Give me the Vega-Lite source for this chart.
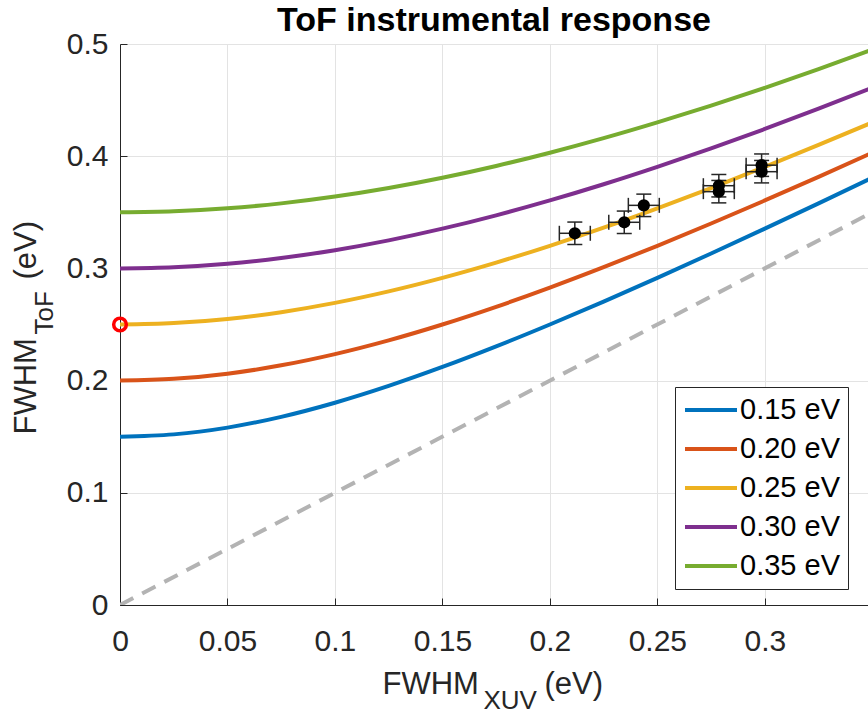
{
  "$schema": "https://vega.github.io/schema/vega-lite/v6.json",
  "width": 748,
  "height": 561,
  "autosize": {"type": "none"},
  "padding": {"left": 120, "top": 44, "right": 0, "bottom": 109},
  "background": "#ffffff",
  "title": {
    "text": "ToF instrumental response",
    "font": "Liberation Sans",
    "fontSize": 34,
    "fontWeight": "bold",
    "color": "#000000",
    "anchor": "middle",
    "baseline": "alphabetic",
    "offset": -36
  },
  "config": {
    "view": {"stroke": null},
    "axis": {
      "labelFont": "Liberation Sans",
      "titleFont": "Liberation Sans",
      "labelColor": "#262626",
      "titleColor": "#262626",
      "titleFontWeight": "normal",
      "domainColor": "#262626",
      "tickColor": "#262626",
      "gridColor": "#e3e3e3",
      "labelFontSize": 30,
      "titleFontSize": 31,
      "titleAlign": "left",
      "titleBaseline": "alphabetic",
      "labelFlush": false,
      "labelOverlap": false
    }
  },
  "datasets": {
    "diag": [
      {"fwhm_xuv": 0, "fwhm_tof": 0},
      {"fwhm_xuv": 0.35, "fwhm_tof": 0.35}
    ],
    "curves": [
      {"inst": "0.15 eV", "fwhm_xuv": 0, "fwhm_tof": 0.15},
      {"inst": "0.15 eV", "fwhm_xuv": 0.025, "fwhm_tof": 0.15207},
      {"inst": "0.15 eV", "fwhm_xuv": 0.05, "fwhm_tof": 0.15811},
      {"inst": "0.15 eV", "fwhm_xuv": 0.075, "fwhm_tof": 0.16771},
      {"inst": "0.15 eV", "fwhm_xuv": 0.1, "fwhm_tof": 0.18028},
      {"inst": "0.15 eV", "fwhm_xuv": 0.125, "fwhm_tof": 0.19526},
      {"inst": "0.15 eV", "fwhm_xuv": 0.15, "fwhm_tof": 0.21213},
      {"inst": "0.15 eV", "fwhm_xuv": 0.175, "fwhm_tof": 0.23049},
      {"inst": "0.15 eV", "fwhm_xuv": 0.2, "fwhm_tof": 0.25},
      {"inst": "0.15 eV", "fwhm_xuv": 0.225, "fwhm_tof": 0.27042},
      {"inst": "0.15 eV", "fwhm_xuv": 0.25, "fwhm_tof": 0.29155},
      {"inst": "0.15 eV", "fwhm_xuv": 0.275, "fwhm_tof": 0.31325},
      {"inst": "0.15 eV", "fwhm_xuv": 0.3, "fwhm_tof": 0.33541},
      {"inst": "0.15 eV", "fwhm_xuv": 0.325, "fwhm_tof": 0.35795},
      {"inst": "0.15 eV", "fwhm_xuv": 0.35, "fwhm_tof": 0.38079},
      {"inst": "0.20 eV", "fwhm_xuv": 0, "fwhm_tof": 0.2},
      {"inst": "0.20 eV", "fwhm_xuv": 0.025, "fwhm_tof": 0.20156},
      {"inst": "0.20 eV", "fwhm_xuv": 0.05, "fwhm_tof": 0.20616},
      {"inst": "0.20 eV", "fwhm_xuv": 0.075, "fwhm_tof": 0.2136},
      {"inst": "0.20 eV", "fwhm_xuv": 0.1, "fwhm_tof": 0.22361},
      {"inst": "0.20 eV", "fwhm_xuv": 0.125, "fwhm_tof": 0.23585},
      {"inst": "0.20 eV", "fwhm_xuv": 0.15, "fwhm_tof": 0.25},
      {"inst": "0.20 eV", "fwhm_xuv": 0.175, "fwhm_tof": 0.26575},
      {"inst": "0.20 eV", "fwhm_xuv": 0.2, "fwhm_tof": 0.28284},
      {"inst": "0.20 eV", "fwhm_xuv": 0.225, "fwhm_tof": 0.30104},
      {"inst": "0.20 eV", "fwhm_xuv": 0.25, "fwhm_tof": 0.32016},
      {"inst": "0.20 eV", "fwhm_xuv": 0.275, "fwhm_tof": 0.34004},
      {"inst": "0.20 eV", "fwhm_xuv": 0.3, "fwhm_tof": 0.36056},
      {"inst": "0.20 eV", "fwhm_xuv": 0.325, "fwhm_tof": 0.38161},
      {"inst": "0.20 eV", "fwhm_xuv": 0.35, "fwhm_tof": 0.40311},
      {"inst": "0.25 eV", "fwhm_xuv": 0, "fwhm_tof": 0.25},
      {"inst": "0.25 eV", "fwhm_xuv": 0.025, "fwhm_tof": 0.25125},
      {"inst": "0.25 eV", "fwhm_xuv": 0.05, "fwhm_tof": 0.25495},
      {"inst": "0.25 eV", "fwhm_xuv": 0.075, "fwhm_tof": 0.26101},
      {"inst": "0.25 eV", "fwhm_xuv": 0.1, "fwhm_tof": 0.26926},
      {"inst": "0.25 eV", "fwhm_xuv": 0.125, "fwhm_tof": 0.27951},
      {"inst": "0.25 eV", "fwhm_xuv": 0.15, "fwhm_tof": 0.29155},
      {"inst": "0.25 eV", "fwhm_xuv": 0.175, "fwhm_tof": 0.30516},
      {"inst": "0.25 eV", "fwhm_xuv": 0.2, "fwhm_tof": 0.32016},
      {"inst": "0.25 eV", "fwhm_xuv": 0.225, "fwhm_tof": 0.33634},
      {"inst": "0.25 eV", "fwhm_xuv": 0.25, "fwhm_tof": 0.35355},
      {"inst": "0.25 eV", "fwhm_xuv": 0.275, "fwhm_tof": 0.37165},
      {"inst": "0.25 eV", "fwhm_xuv": 0.3, "fwhm_tof": 0.39051},
      {"inst": "0.25 eV", "fwhm_xuv": 0.325, "fwhm_tof": 0.41003},
      {"inst": "0.25 eV", "fwhm_xuv": 0.35, "fwhm_tof": 0.43012},
      {"inst": "0.30 eV", "fwhm_xuv": 0, "fwhm_tof": 0.3},
      {"inst": "0.30 eV", "fwhm_xuv": 0.025, "fwhm_tof": 0.30104},
      {"inst": "0.30 eV", "fwhm_xuv": 0.05, "fwhm_tof": 0.30414},
      {"inst": "0.30 eV", "fwhm_xuv": 0.075, "fwhm_tof": 0.30923},
      {"inst": "0.30 eV", "fwhm_xuv": 0.1, "fwhm_tof": 0.31623},
      {"inst": "0.30 eV", "fwhm_xuv": 0.125, "fwhm_tof": 0.325},
      {"inst": "0.30 eV", "fwhm_xuv": 0.15, "fwhm_tof": 0.33541},
      {"inst": "0.30 eV", "fwhm_xuv": 0.175, "fwhm_tof": 0.34731},
      {"inst": "0.30 eV", "fwhm_xuv": 0.2, "fwhm_tof": 0.36056},
      {"inst": "0.30 eV", "fwhm_xuv": 0.225, "fwhm_tof": 0.375},
      {"inst": "0.30 eV", "fwhm_xuv": 0.25, "fwhm_tof": 0.39051},
      {"inst": "0.30 eV", "fwhm_xuv": 0.275, "fwhm_tof": 0.40697},
      {"inst": "0.30 eV", "fwhm_xuv": 0.3, "fwhm_tof": 0.42426},
      {"inst": "0.30 eV", "fwhm_xuv": 0.325, "fwhm_tof": 0.4423},
      {"inst": "0.30 eV", "fwhm_xuv": 0.35, "fwhm_tof": 0.46098},
      {"inst": "0.35 eV", "fwhm_xuv": 0, "fwhm_tof": 0.35},
      {"inst": "0.35 eV", "fwhm_xuv": 0.025, "fwhm_tof": 0.35089},
      {"inst": "0.35 eV", "fwhm_xuv": 0.05, "fwhm_tof": 0.35355},
      {"inst": "0.35 eV", "fwhm_xuv": 0.075, "fwhm_tof": 0.35795},
      {"inst": "0.35 eV", "fwhm_xuv": 0.1, "fwhm_tof": 0.36401},
      {"inst": "0.35 eV", "fwhm_xuv": 0.125, "fwhm_tof": 0.37165},
      {"inst": "0.35 eV", "fwhm_xuv": 0.15, "fwhm_tof": 0.38079},
      {"inst": "0.35 eV", "fwhm_xuv": 0.175, "fwhm_tof": 0.39131},
      {"inst": "0.35 eV", "fwhm_xuv": 0.2, "fwhm_tof": 0.40311},
      {"inst": "0.35 eV", "fwhm_xuv": 0.225, "fwhm_tof": 0.41608},
      {"inst": "0.35 eV", "fwhm_xuv": 0.25, "fwhm_tof": 0.43012},
      {"inst": "0.35 eV", "fwhm_xuv": 0.275, "fwhm_tof": 0.44511},
      {"inst": "0.35 eV", "fwhm_xuv": 0.3, "fwhm_tof": 0.46098},
      {"inst": "0.35 eV", "fwhm_xuv": 0.325, "fwhm_tof": 0.47762},
      {"inst": "0.35 eV", "fwhm_xuv": 0.35, "fwhm_tof": 0.49497}
    ],
    "measured": [
      {"fwhm_xuv": 0.2116, "fwhm_tof": 0.3313, "err_xuv": 0.0072, "err_tof": 0.01},
      {"fwhm_xuv": 0.2346, "fwhm_tof": 0.3411, "err_xuv": 0.0072, "err_tof": 0.01},
      {"fwhm_xuv": 0.2437, "fwhm_tof": 0.3562, "err_xuv": 0.0072, "err_tof": 0.01},
      {"fwhm_xuv": 0.2786, "fwhm_tof": 0.3737, "err_xuv": 0.0072, "err_tof": 0.01},
      {"fwhm_xuv": 0.2786, "fwhm_tof": 0.3684, "err_xuv": 0.0072, "err_tof": 0.01},
      {"fwhm_xuv": 0.2985, "fwhm_tof": 0.392, "err_xuv": 0.0072, "err_tof": 0.01},
      {"fwhm_xuv": 0.2985, "fwhm_tof": 0.3862, "err_xuv": 0.0072, "err_tof": 0.01}
    ],
    "marker": [
      {"fwhm_xuv": 0, "fwhm_tof": 0.25}
    ]
  },
  "layer": [
    {
      "data": {"name": "diag"},
      "mark": {"type": "line", "color": "#b3b3b3", "strokeWidth": 4, "strokeDash": [15, 10], "clip": true},
      "encoding": {
        "x": {
          "field": "fwhm_xuv", "type": "quantitative",
          "scale": {"domain": [0, 0.348], "nice": false, "zero": false},
          "axis": {
            "orient": "bottom", "values": [0, 0.05, 0.1, 0.15, 0.2, 0.25, 0.3], "format": "~g",
            "grid": true, "tickSize": -7, "tickWidth": 1, "domainWidth": 1, "labelPadding": 28,
            "title": "FWHM", "titleX": 262, "titleY": 88, "titleAngle": 0
          }
        },
        "y": {
          "field": "fwhm_tof", "type": "quantitative",
          "scale": {"domain": [0, 0.5], "nice": false, "zero": false},
          "axis": {
            "orient": "left", "values": [0, 0.1, 0.2, 0.3, 0.4, 0.5], "format": "~g",
            "grid": true, "tickSize": -7, "tickWidth": 1, "domainWidth": 1, "labelPadding": 19,
            "labelBaseline": "middle",
            "title": "FWHM", "titleX": -85, "titleY": 390, "titleAngle": 270
          }
        }
      }
    },
    {
      "data": {"name": "curves"},
      "mark": {"type": "line", "strokeWidth": 4, "interpolate": "monotone", "clip": true},
      "encoding": {
        "x": {
          "field": "fwhm_xuv", "type": "quantitative",
          "scale": {"domain": [0, 0.348], "nice": false, "zero": false},
          "axis": {
            "orient": "bottom", "labels": false, "ticks": false, "domain": false, "grid": false,
            "title": "XUV", "titleFontSize": 26, "titleX": 363, "titleY": 103, "titleAngle": 0
          }
        },
        "y": {
          "field": "fwhm_tof", "type": "quantitative",
          "scale": {"domain": [0, 0.5], "nice": false, "zero": false},
          "axis": {
            "orient": "left", "labels": false, "ticks": false, "domain": false, "grid": false,
            "title": "ToF", "titleFontSize": 26, "titleX": -68, "titleY": 290, "titleAngle": 270
          }
        },
        "color": {
          "field": "inst", "type": "nominal",
          "scale": {
            "domain": ["0.15 eV", "0.20 eV", "0.25 eV", "0.30 eV", "0.35 eV"],
            "range": ["#0072bd", "#d95319", "#edb120", "#7e2f8e", "#77ac30"]
          },
          "legend": {
            "orient": "none", "legendX": 555, "legendY": 343, "title": null,
            "symbolType": "M-1,0H3", "symbolSize": 676, "symbolStrokeWidth": 4,
            "labelFont": "Liberation Sans", "labelFontSize": 29, "labelColor": "#000000",
            "labelOffset": 27, "labelLimit": 300, "padding": 8, "rowPadding": 9,
            "strokeColor": "#262626", "fillColor": "#ffffff", "cornerRadius": 0
          }
        }
      }
    },
    {
      "data": {"name": "measured"},
      "mark": {
        "type": "errorbar",
        "ticks": {"size": 15, "thickness": 1.5, "color": "#262626", "opacity": 1},
        "rule": {"strokeWidth": 1.5, "color": "#262626", "opacity": 1},
        "thickness": 1.5, "color": "#262626"
      },
      "encoding": {
        "x": {"field": "fwhm_xuv", "type": "quantitative", "scale": {"domain": [0, 0.348], "nice": false, "zero": false}, "axis": null},
        "y": {"field": "fwhm_tof", "type": "quantitative", "scale": {"domain": [0, 0.5], "nice": false, "zero": false}, "axis": null},
        "yError": {"field": "err_tof"}
      }
    },
    {
      "data": {"name": "measured"},
      "mark": {
        "type": "errorbar",
        "ticks": {"size": 15, "thickness": 1.5, "color": "#262626", "opacity": 1},
        "rule": {"strokeWidth": 1.5, "color": "#262626", "opacity": 1},
        "thickness": 1.5, "color": "#262626"
      },
      "encoding": {
        "x": {"field": "fwhm_xuv", "type": "quantitative", "scale": {"domain": [0, 0.348], "nice": false, "zero": false}, "axis": null},
        "y": {"field": "fwhm_tof", "type": "quantitative", "scale": {"domain": [0, 0.5], "nice": false, "zero": false}, "axis": null},
        "xError": {"field": "err_xuv"}
      }
    },
    {
      "data": {"name": "measured"},
      "mark": {"type": "point", "shape": "circle", "filled": true, "color": "#000000", "size": 150, "opacity": 1},
      "encoding": {
        "x": {
          "field": "fwhm_xuv", "type": "quantitative",
          "scale": {"domain": [0, 0.348], "nice": false, "zero": false},
          "axis": {
            "orient": "bottom", "labels": false, "ticks": false, "domain": false, "grid": false,
            "title": "(eV)", "titleX": 424, "titleY": 88, "titleAngle": 0
          }
        },
        "y": {
          "field": "fwhm_tof", "type": "quantitative",
          "scale": {"domain": [0, 0.5], "nice": false, "zero": false},
          "axis": {
            "orient": "left", "labels": false, "ticks": false, "domain": false, "grid": false,
            "title": "(eV)", "titleX": -85, "titleY": 235, "titleAngle": 270
          }
        }
      }
    },
    {
      "data": {"name": "marker"},
      "mark": {"type": "point", "shape": "circle", "filled": false, "stroke": "#ff0000", "strokeWidth": 3.5, "size": 160, "opacity": 1, "clip": false},
      "encoding": {
        "x": {"field": "fwhm_xuv", "type": "quantitative", "scale": {"domain": [0, 0.348], "nice": false, "zero": false}, "axis": null},
        "y": {"field": "fwhm_tof", "type": "quantitative", "scale": {"domain": [0, 0.5], "nice": false, "zero": false}, "axis": null}
      }
    }
  ],
  "resolve": {"axis": {"x": "independent", "y": "independent"}}
}
